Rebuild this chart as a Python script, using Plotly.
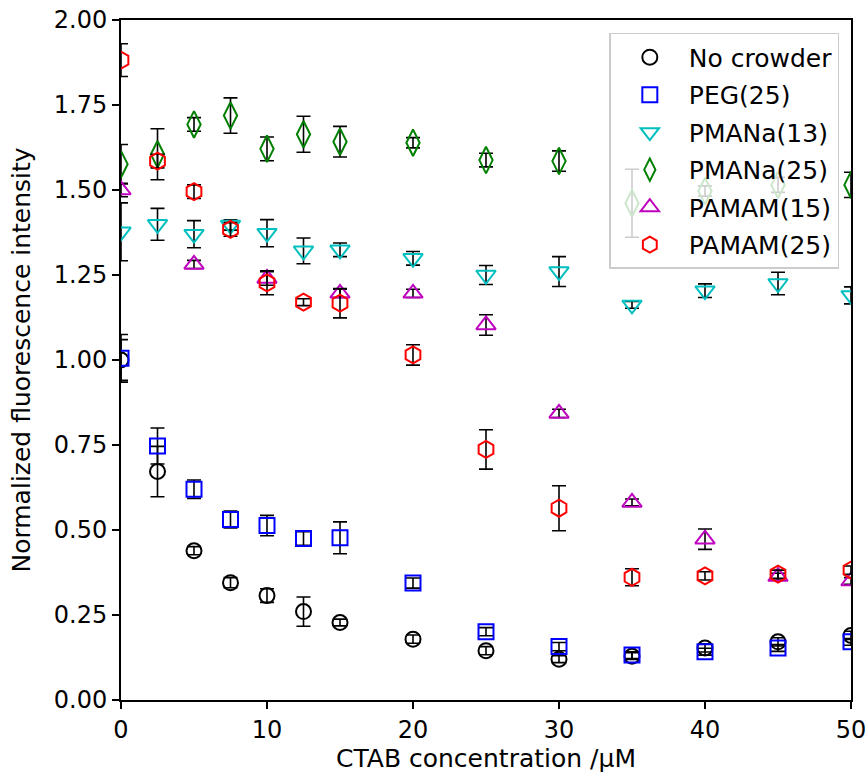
import plotly.graph_objects as go

# CTAB concentration (uM)
x_all = [0, 2.5, 5, 7.5, 10, 12.5, 15, 20, 25, 30, 35, 40, 45, 50]
x_pamam15 = [0, 5, 10, 15, 20, 25, 30, 35, 40, 45, 50]

# Normalized fluorescence intensity and standard deviations
no_crowder = [1.00, 0.672, 0.439, 0.345, 0.307, 0.260, 0.228, 0.179, 0.145, 0.120, 0.129, 0.153, 0.171, 0.190]
no_crowder_err = [0.06, 0.074, 0.012, 0.015, 0.02, 0.043, 0.01, 0.012, 0.012, 0.01, 0.01, 0.012, 0.012, 0.012]

peg25 = [1.005, 0.747, 0.620, 0.531, 0.513, 0.475, 0.477, 0.344, 0.201, 0.157, 0.132, 0.142, 0.153, 0.171]
peg25_err = [0.07, 0.053, 0.027, 0.025, 0.03, 0.02, 0.047, 0.015, 0.012, 0.012, 0.01, 0.01, 0.01, 0.01]

pmana13 = [1.377, 1.399, 1.370, 1.397, 1.373, 1.321, 1.324, 1.299, 1.250, 1.260, 1.162, 1.204, 1.225, 1.190]
pmana13_err = [0.085, 0.047, 0.04, 0.015, 0.04, 0.038, 0.02, 0.02, 0.028, 0.044, 0.01, 0.02, 0.033, 0.025]

pmana25 = [1.576, 1.605, 1.693, 1.719, 1.621, 1.664, 1.642, 1.639, 1.588, 1.585, 1.461, 1.497, 1.515, 1.515]
pmana25_err = [0.058, 0.075, 0.02, 0.052, 0.035, 0.053, 0.045, 0.015, 0.02, 0.03, 0.1, 0.015, 0.022, 0.037]

pamam15 = [1.50, 1.281, 1.240, 1.196, 1.196, 1.103, 0.843, 0.581, 0.473, 0.363, 0.350]
pamam15_err = [0.02, 0.012, 0.02, 0.012, 0.012, 0.03, 0.012, 0.01, 0.03, 0.01, 0.01]

pamam25 = [1.882, 1.585, 1.495, 1.384, 1.227, 1.170, 1.167, 1.015, 0.737, 0.564, 0.361, 0.365, 0.370, 0.382]
pamam25_err = [0.048, 0.02, 0.02, 0.02, 0.035, 0.01, 0.043, 0.03, 0.058, 0.066, 0.025, 0.012, 0.012, 0.012]

y_ticks = [0.00, 0.25, 0.50, 0.75, 1.00, 1.25, 1.50, 1.75, 2.00]
x_ticks = [0, 10, 20, 30, 40, 50]

series = [
    ("No crowder", x_all, no_crowder, no_crowder_err, "black", "circle-open", 15),
    ("PEG(25)", x_all, peg25, peg25_err, "#0000ff", "square-open", 15),
    ("PMANa(13)", x_all, pmana13, pmana13_err, "#00bfbf", "triangle-down-open", 17),
    ("PMANa(25)", x_all, pmana25, pmana25_err, "#008000", "diamond-tall-open", 19),
    ("PAMAM(15)", x_pamam15, pamam15, pamam15_err, "#bf00bf", "triangle-up-open", 17),
    ("PAMAM(25)", x_all, pamam25, pamam25_err, "#ff0000", "hexagon-open", 17),
]

FONT = "DejaVu Sans"

fig = go.Figure()
for i, (name, xs, ys, es, color, symbol, size) in enumerate(series):
    fig.add_trace(go.Scatter(
        x=xs, y=ys, name=name, mode="markers",
        legendgroup=f"g{i}",
        marker=dict(symbol=symbol, size=size, color=color,
                    line=dict(width=2, color=color)),
        error_y=dict(type="data", array=es, symmetric=True,
                     color="black", thickness=1.6, width=7),
    ))

axis_common = dict(
    showline=True, linecolor="black", linewidth=2, mirror=True,
    ticks="outside", ticklen=7, tickwidth=1.6, tickcolor="black",
    showgrid=False, zeroline=False, automargin=False,
    tickfont=dict(family=FONT, size=24, color="black"),
)

fig.update_xaxes(range=[0, 50], tickvals=x_ticks,
                 title=dict(text="CTAB concentration /μM", standoff=6,
                            font=dict(family=FONT, size=25, color="black")),
                 **axis_common)
fig.update_yaxes(range=[0, 2.0], tickvals=y_ticks,
                 ticktext=[f"{v:.2f}" for v in y_ticks],
                 title=dict(text="Normalized fluorescence intensity", standoff=16,
                            font=dict(family=FONT, size=25, color="black")),
                 **axis_common)

fig.update_layout(
    width=868, height=774,
    margin=dict(l=121, r=17, t=20, b=74),
    paper_bgcolor="white", plot_bgcolor="white",
    font=dict(family=FONT, color="black"),
    legend=dict(
        x=0.984, y=0.981, xanchor="right", yanchor="top",
        bgcolor="rgba(255,255,255,0.8)", bordercolor="#cccccc", borderwidth=1.5,
        font=dict(family=FONT, size=25, color="black"),
        traceorder="grouped", tracegroupgap=2, itemwidth=68,
    ),
)

fig.write_html("out.html")
